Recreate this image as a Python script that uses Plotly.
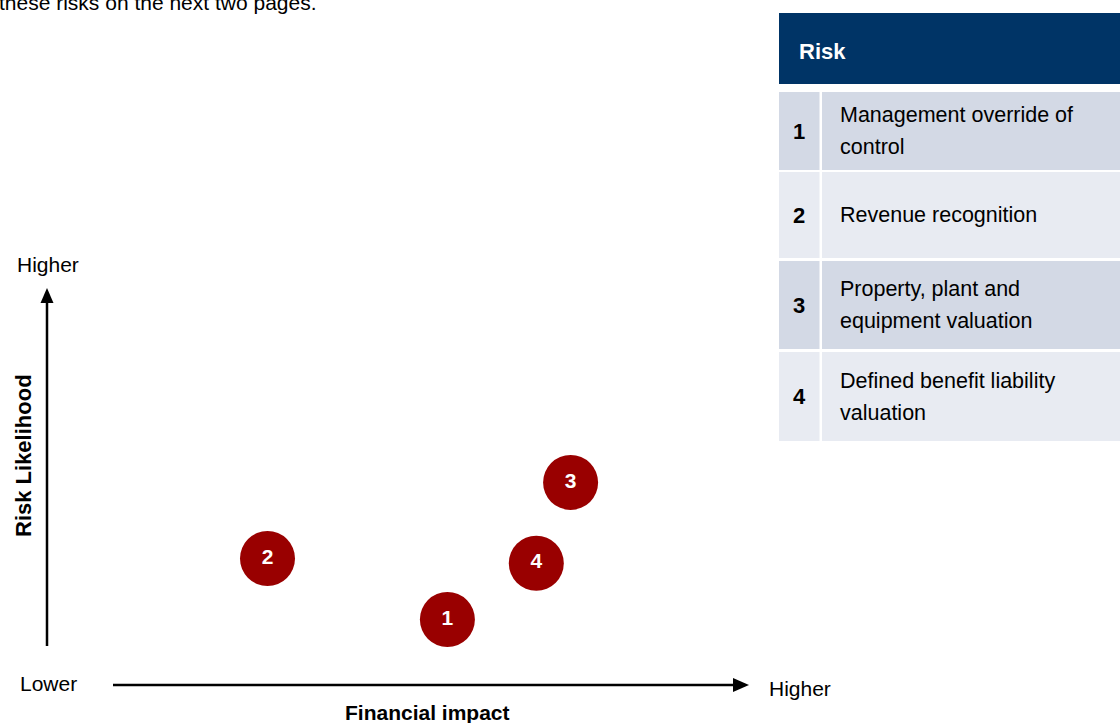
import textwrap
import plotly.graph_objects as go

W, H = 1120, 723

# ---- data ----
risk_ids = ["1", "2", "3", "4"]
risk_names = [
    "Management override of control",
    "Revenue recognition",
    "Property, plant and equipment valuation",
    "Defined benefit liability valuation",
]
financial_impact = [5.72, 3.15, 7.48, 6.99]   # 0-10 scale along the x arrow
risk_likelihood = [1.68, 3.22, 5.14, 3.10]    # 0-10 scale along the y arrow
axis_low_label = "Lower"
axis_high_label = "Higher"
x_title = "Financial impact"
y_title = "Risk Likelihood"
table_header = "Risk"
intro_text = "these risks on the next two pages."

FONT = "Liberation Sans Narrow, Arial Narrow, Liberation Sans, Arial, sans-serif"
FONT_REG = "Liberation Sans, Arial, sans-serif"
NAVY = "#003466"
RED = "#990000"
ROW_DARK = "#D3D9E5"
ROW_LIGHT = "#E8EBF2"

fig = go.Figure()

# bubbles on the data axes
fig.add_trace(go.Scatter(
    x=financial_impact, y=risk_likelihood, mode="markers+text",
    text=[f"<b>{r}</b>" for r in risk_ids], textposition="middle center",
    textfont=dict(family=FONT, size=21, color="white"),
    marker=dict(size=55, color=RED, line=dict(width=0)),
    hoverinfo="skip", showlegend=False, xaxis="x", yaxis="y",
))
# invisible trace to activate pixel overlay axes
fig.add_trace(go.Scatter(x=[0], y=[0], mode="markers", marker=dict(opacity=0),
                         hoverinfo="skip", showlegend=False, xaxis="x2", yaxis="y2"))

shapes = []
annotations = []

def pline(x0, y0, x1, y1, w=2.5, color="black"):
    shapes.append(dict(type="line", xref="x2", yref="y2", x0=x0, y0=y0, x1=x1, y1=y1,
                       line=dict(color=color, width=w)))

def prect(x0, y0, x1, y1, color):
    shapes.append(dict(type="rect", xref="x2", yref="y2", x0=x0, y0=y0, x1=x1, y1=y1,
                       fillcolor=color, line=dict(width=0), layer="below"))

def ptext(x, y, text, size, xanchor="left", yanchor="middle", family=FONT, color="black", angle=0):
    annotations.append(dict(xref="x2", yref="y2", x=x, y=y, text=text, showarrow=False,
                            xanchor=xanchor, yanchor=yanchor, textangle=angle,
                            font=dict(family=family, size=size, color=color), align="left"))

# axes arrows
pline(47, 646, 47, 300)
shapes.append(dict(type="path", xref="x2", yref="y2", path="M 40.5,303 L 53.5,303 L 47,288 Z",
                   fillcolor="black", line=dict(width=0)))
pline(113, 685, 736, 685)
shapes.append(dict(type="path", xref="x2", yref="y2", path="M 733,678 L 733,692 L 749,685 Z",
                   fillcolor="black", line=dict(width=0)))

ptext(48, 264, axis_high_label, 21, xanchor="center")
ptext(48, 683, axis_low_label, 21, xanchor="center")
ptext(767, 688, axis_high_label, 21, xanchor="left")
ptext(427, 712, f"<b>{x_title}</b>", 21, xanchor="center")
ptext(23, 456, f"<b>{y_title}</b>", 22, xanchor="center", angle=-90)

# intro text partly cut at the top edge
annotations.append(dict(xref="paper", yref="paper", x=-3 / W, y=1 - 3 / H, text=intro_text,
                        showarrow=False, xanchor="left", yanchor="middle",
                        font=dict(family=FONT_REG, size=21, color="black")))

# table
prect(779, 13, W, 84, NAVY)
ptext(797, 51, f"<b>{table_header}</b>", 22, color="white")
row_tops = [92, 172, 261, 352]
row_bots = [170, 258, 349, 441]
LINE_GAP = 32
for i, (rid, name) in enumerate(zip(risk_ids, risk_names)):
    col = ROW_DARK if i % 2 == 0 else ROW_LIGHT
    t, b = row_tops[i], row_bots[i]
    prect(779, t, 819.5, b, col)
    prect(822, t, W, b, col)
    mid = (t + b) / 2
    ptext(799, mid, f"<b>{rid}</b>", 22, xanchor="center")
    lines = textwrap.wrap(name, 25)
    n = len(lines)
    for k, ln in enumerate(lines):
        ptext(838, mid + (k - (n - 1) / 2) * LINE_GAP, ln, 21.5)

fig.update_layout(
    width=W, height=H, margin=dict(l=0, r=0, t=0, b=0),
    paper_bgcolor="white", plot_bgcolor="rgba(0,0,0,0)",
    shapes=shapes, annotations=annotations, showlegend=False,
    xaxis=dict(domain=[47 / W, 747 / W], range=[0, 10], visible=False, fixedrange=True),
    yaxis=dict(domain=[(H - 686) / H, (H - 290) / H], range=[0, 10], visible=False, fixedrange=True),
    xaxis2=dict(domain=[0, 1], range=[0, W], visible=False, anchor="y2", fixedrange=True),
    yaxis2=dict(domain=[0, 1], range=[H, 0], visible=False, anchor="x2", fixedrange=True),
)

fig.write_html("out.html", config={"displayModeBar": False},
               post_script="document.body.style.margin='0';document.body.style.overflow='hidden';")
